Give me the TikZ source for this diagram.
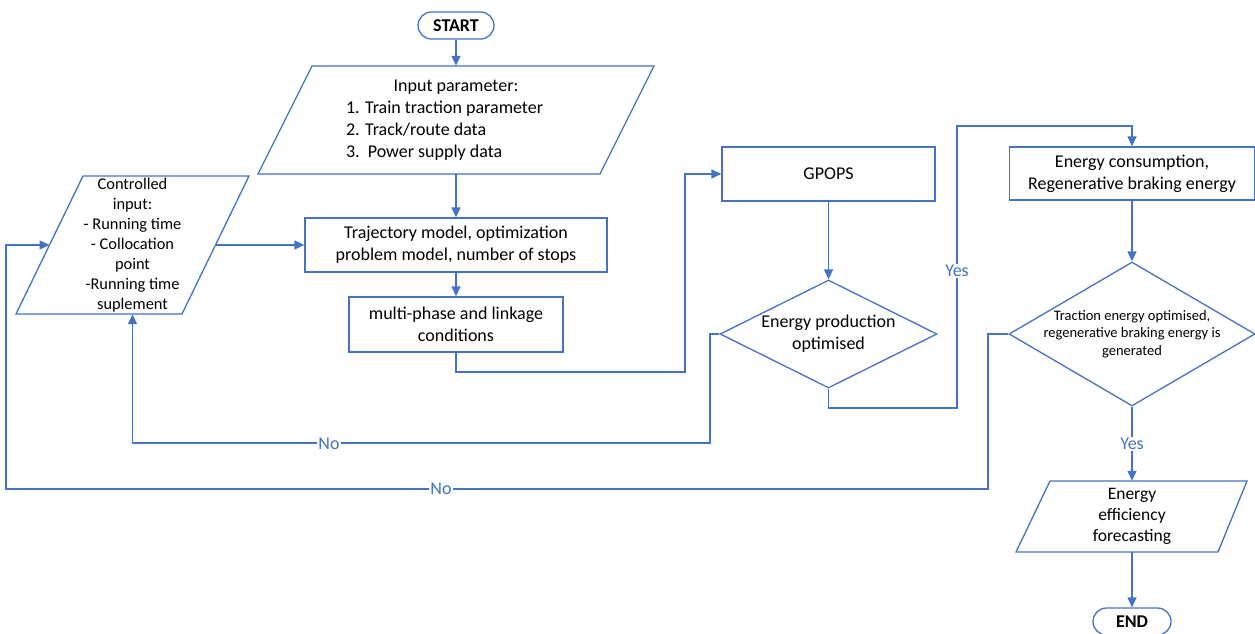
\documentclass[tikz,border=0pt]{standalone}
\usepackage{fontspec}
\setmainfont{Carlito}
\usetikzlibrary{shapes.geometric,arrows.meta,calc}
\definecolor{ob}{HTML}{4472C4}
\begin{document}
\begin{tikzpicture}[x=1pt,y=-1pt,
  outl/.style={draw=ob,line width=1.3pt},
  boxn/.style={outl,rectangle,inner sep=0pt,align=center,font=\fontsize{18}{22}\selectfont},
  txt/.style={inner sep=0pt,align=center,font=\fontsize{18}{22}\selectfont},
  term/.style={outl,rounded corners=13.5pt,inner sep=0pt,minimum width=76pt,minimum height=27pt,font=\bfseries\fontsize{18}{22}\selectfont},
  dia/.style={outl,diamond,inner sep=0pt},
  conn/.style={draw=ob,line width=1.3pt,-{Triangle[length=10pt,width=9pt]}},
  lbl/.style={fill=white,text=ob,inner sep=1pt,font=\fontsize{18}{22}\selectfont}
]
\useasboundingbox[fill=white] (0,0) rectangle (1255,634);

% nodes
\node[term] (start) at (456,25.5) {START};
\draw[outl] (312,66) -- (654,66) -- (600,174) -- (258,174) -- cycle;
\node[txt,minimum height=108pt] (inp) at (456,120) {Input parameter:\\\makebox[220pt][l]{1. Train traction parameter}\\\makebox[220pt][l]{2. Track/route data}\\\makebox[220pt][l]{3.\ \ Power supply data}};
\node[boxn,minimum width=302pt,minimum height=54pt] (traj) at (456,245) {Trajectory model, optimization\\problem model, number of stops};
\node[boxn,minimum width=214pt,minimum height=55pt] (multi) at (456,324.5) {multi-phase and linkage\\conditions};
\draw[outl] (83,176) -- (249,176) -- (182,314) -- (16,314) -- cycle;
\node[txt,minimum height=138pt,font=\fontsize{16.4}{20}\selectfont] (ctrl) at (132.5,245) {Controlled\\input:\\- Running time\\- Collocation\\point\\-Running time\\suplement};
\coordinate (ctrlL) at (49.5,245);
\coordinate (ctrlR) at (215.5,245);
\node[boxn,minimum width=213pt,minimum height=54pt] (gpops) at (828.5,174) {GPOPS};
\node[dia,minimum width=217pt,minimum height=108pt] (d1) at (828.5,334) {};
\node[txt] (d1t) at (d1) {Energy production\\optimised};
\node[boxn,minimum width=245pt,minimum height=53pt] (ec) at (1132,173.5) {Energy consumption,\\Regenerative braking energy};
\node[dia,minimum width=246pt,minimum height=144pt] (d2) at (1132,334) {};
\node[txt,font=\fontsize{14.5}{17.7}\selectfont] (d2t) at (d2) {Traction energy optimised,\\regenerative braking energy is\\generated};
\draw[outl] (1050,481) -- (1247,481) -- (1218,552) -- (1016,552) -- cycle;
\node[txt,minimum height=71pt,font=\fontsize{17.5}{21}\selectfont] (fc) at (1132,516.5) {Energy\\efficiency\\forecasting};
\node[term,minimum width=78pt] (end) at (1132,621.5) {END};

% connectors
\draw[conn] (start.south) -- (inp.north);
\draw[conn] (inp.south) -- (traj.north);
\draw[conn] (traj.south) -- (multi.north);
\draw[conn] (multi.south) |- (685,372) |- (gpops.west);
\draw[conn] (gpops.south) -- (d1.north);
\draw[conn] (d1.south) |- (957,408) |- (1132,126) -- (ec.north);
\draw[conn] (ec.south) -- (d2.north);
\draw[conn] (d2.south) -- node[lbl] (yes2) {Yes} (fc.north);
\draw[conn] (fc.south) -- (end.north);
\draw[conn] (d1.west) -| (710,443) -| (ctrl.south);
\draw[conn] (d2.west) -| (988,489) -| (6,245) -- (ctrlL);
\draw[conn] (ctrlR) -- (traj.west);

% labels
\node[lbl] (yes1) at (957,271) {Yes};
\node[lbl] (no1) at (329,444) {No};
\node[lbl] (no2) at (441,489) {No};
\end{tikzpicture}
\end{document}
